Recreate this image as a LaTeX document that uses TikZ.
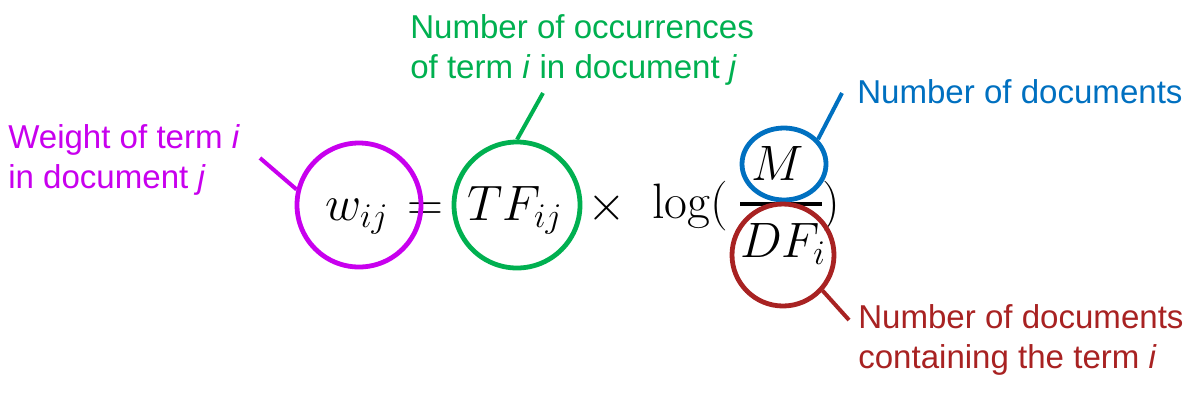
\documentclass[tikz,border=0pt]{standalone}
\usepackage{graphicx}
\usepackage[no-math]{fontspec}
\newfontfamily\lblfont{Liberation Sans}
\usetikzlibrary{shapes.geometric}
\definecolor{cmag}{HTML}{C800EE}
\definecolor{cgreen}{HTML}{00B050}
\definecolor{cblue}{HTML}{0070C0}
\definecolor{cred}{HTML}{A82222}
\newcommand{\fmath}[1]{\scalebox{1.5}{$#1$}}
\tikzset{
  mathtxt/.style={inner sep=0pt, anchor=base, font=\fontsize{24}{28}\selectfont},
  ring/.style={circle, draw, line width=3.6pt, inner sep=0pt},
  oval/.style={ellipse, draw, line width=3.6pt, inner sep=0pt},
  callout/.style={line width=3pt},
  lbl/.style={inner sep=0pt, anchor=base west, align=left,
    font=\lblfont\fontsize{24.8}{30}\selectfont}
}
\begin{document}
\begin{tikzpicture}[x=0.75pt,y=-0.75pt]
\useasboundingbox (0,0) rectangle (1194,405);
% formula
\node[mathtxt] (wtxt) at (357,220) {\fmath{w_{ij}}};
\node[mathtxt] (eq) at (425,220) {\fmath{=}};
\node[mathtxt] (tftxt) at (515,220) {\fmath{TF_{ij}}};
\node[mathtxt] (times) at (607,220) {\fmath{\times}};
\node[mathtxt, anchor=base west] (logtxt) at (652,218) {\fmath{\log(}};
\node[mathtxt] (mtxt) at (778,180) {\fmath{M}};
\node[mathtxt] (dftxt) at (783,257) {\fmath{DF_i}};
\node[mathtxt] (rpar) at (831,218) {\fmath{)}};
\coordinate (barl) at (740,204);
\coordinate (barr) at (822,204);
\draw[line width=2.4pt] (barl) -- (barr);
% rings
\node[ring, draw=cmag, minimum size=124*0.75pt] (wring) at (359,205) {};
\node[ring, draw=cgreen, minimum size=126*0.75pt] (tfring) at (517,205) {};
\node[oval, draw=cblue, minimum width=84*0.75pt, minimum height=72*0.75pt] (mring) at (784,164) {};
\node[ring, draw=cred, minimum size=102*0.75pt] (dfring) at (783,255) {};
% callout ends
\coordinate (wend) at (260,158);
\coordinate (tfend) at (543,93);
\coordinate (mend) at (842,93);
\coordinate (dfend) at (849,320);
\draw[callout, cmag] (wring.166) -- (wend);
\draw[callout, cgreen] (tfring.90) -- (tfend);
\draw[callout, cblue] (mring.36) -- (mend);
\draw[callout, cred] (dfring.-42) -- (dfend);
% labels (base anchor = baseline of last line)
\node[lbl, text=cmag] (wlbl) at (8,188) {Weight of term \textit{i}\\in document \textit{j}};
\node[lbl, text=cgreen] (tflbl) at (410,78) {Number of occurrences\\of term \textit{i} in document \textit{j}};
\node[lbl, text=cblue] (mlbl) at (857,103) {Number of documents};
\node[lbl, text=cred] (dflbl) at (858,368) {Number of documents\\containing the term \textit{i}};
\end{tikzpicture}
\end{document}
